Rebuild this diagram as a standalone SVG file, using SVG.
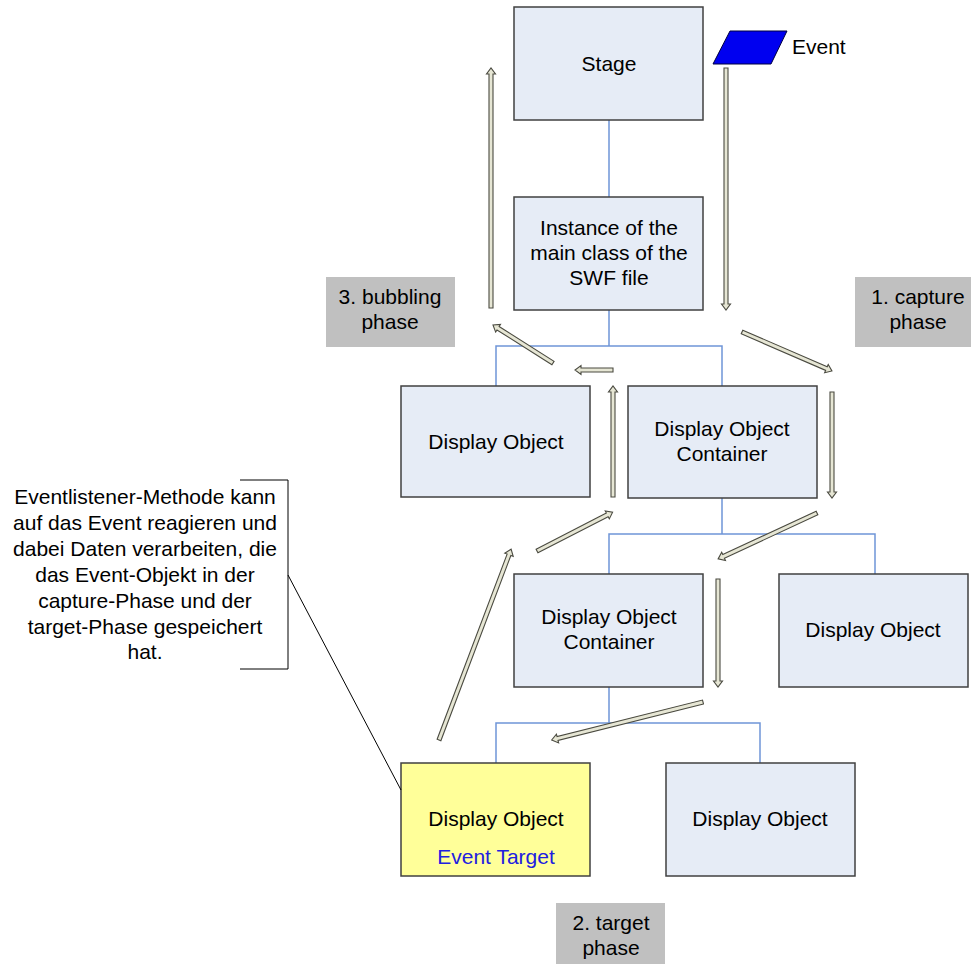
<svg xmlns="http://www.w3.org/2000/svg" width="971" height="964" viewBox="0 0 971 964">
<style>
text{font-family:"Liberation Sans",Arial,sans-serif;font-size:21px;fill:#000;text-anchor:middle}
.box{fill:#e6ecf6;stroke:#404040;stroke-width:1.5}
.tgt{fill:#ffff99;stroke:#404040;stroke-width:1.5}
.gray{fill:#c0c0c0}
.con{fill:none;stroke:#6f95d8;stroke-width:1.5}
.arr{fill:#e6e6d4;stroke:#4a4a40;stroke-width:1.1;stroke-linejoin:miter}
.ann{fill:none;stroke:#000;stroke-width:1}
</style>
<rect width="971" height="964" fill="#fff"/>
<g id="connectors">
<path class="con" d="M609,120V197M609,310V346M496,386V346H722V386M722,498V534M609,574V534H875V574M609,687V723M496,763V723H760V763"/>
</g>
<g id="stage"><rect class="box" x="514" y="7" width="189" height="113"/><text x="609" y="71">Stage</text></g>
<g id="instance"><rect class="box" x="514" y="197" width="189" height="113"/><text x="609" y="235">Instance of the</text><text x="609" y="260">main class of the</text><text x="609" y="285">SWF file</text></g>
<g id="do1"><rect class="box" x="401" y="386" width="189" height="111"/><text x="496" y="449">Display Object</text></g>
<g id="doc1"><rect class="box" x="628" y="386" width="189" height="112"/><text x="722" y="436">Display Object</text><text x="722" y="461">Container</text></g>
<g id="doc2"><rect class="box" x="514" y="574" width="189" height="113"/><text x="609" y="624">Display Object</text><text x="609" y="649">Container</text></g>
<g id="do2"><rect class="box" x="779" y="574" width="189" height="113"/><text x="873" y="637">Display Object</text></g>
<g id="target"><rect class="tgt" x="401" y="763" width="189" height="113"/><text x="496" y="826">Display Object</text><text x="496" y="864" style="fill:#2020e0">Event Target</text></g>
<g id="do3"><rect class="box" x="666" y="763" width="189" height="113"/><text x="760" y="826">Display Object</text></g>
<g id="event"><polygon points="730,31 787,31 771,64 713,64" fill="#0000f0" stroke="#000040" stroke-width="1"/><text x="792" y="54" style="text-anchor:start">Event</text></g>
<g id="capture"><rect class="gray" x="855" y="277" width="116" height="70"/><text x="918" y="304">1. capture</text><text x="918" y="329">phase</text></g>
<g id="bubbling"><rect class="gray" x="326" y="277" width="129" height="70"/><text x="390" y="304">3. bubbling</text><text x="390" y="329">phase</text></g>
<g id="targetphase"><rect class="gray" x="556" y="903" width="109" height="61"/><text x="611" y="930">2. target</text><text x="611" y="955">phase</text></g>
<g id="annotation">
<path class="ann" d="M240,480H288V669H240M288,575L401,790"/>
<text x="145" y="504">Eventlistener-Methode kann</text>
<text x="145" y="530">auf das Event reagieren und</text>
<text x="145" y="556">dabei Daten verarbeiten, die</text>
<text x="145" y="582">das Event-Objekt in der</text>
<text x="145" y="608">capture-Phase und der</text>
<text x="145" y="634">target-Phase gespeichert</text>
<text x="145" y="659">hat.</text>
</g>
<g id="arrows">
<path class="arr" transform="translate(491,308) rotate(-90)" d="M0,-2H234V-4.5L240,0L234,4.5V2H0Z"/>
<path class="arr" transform="translate(726,68) rotate(90)" d="M0,-2H236V-4.5L242,0L236,4.5V2H0Z"/>
<path class="arr" transform="translate(742,332) rotate(23.4)" d="M0,-2H92V-4.5L98,0L92,4.5V2H0Z"/>
<path class="arr" transform="translate(553,363) rotate(-147.7)" d="M0,-2H65V-4.5L71,0L65,4.5V2H0Z"/>
<path class="arr" transform="translate(613,370) rotate(180)" d="M0,-2H32V-4.5L38,0L32,4.5V2H0Z"/>
<path class="arr" transform="translate(613,497) rotate(-90)" d="M0,-2H105V-4.5L111,0L105,4.5V2H0Z"/>
<path class="arr" transform="translate(832,392) rotate(90)" d="M0,-2H100V-4.5L106,0L100,4.5V2H0Z"/>
<path class="arr" transform="translate(817,513) rotate(155.1)" d="M0,-2H103V-4.5L109,0L103,4.5V2H0Z"/>
<path class="arr" transform="translate(537,551) rotate(-27.2)" d="M0,-2H79V-4.5L85,0L79,4.5V2H0Z"/>
<path class="arr" transform="translate(718,579) rotate(90)" d="M0,-2H102V-4.5L108,0L102,4.5V2H0Z"/>
<path class="arr" transform="translate(703,702) rotate(165.9)" d="M0,-2H150V-4.5L156,0L150,4.5V2H0Z"/>
<path class="arr" transform="translate(439,740) rotate(-69.3)" d="M0,-2H198V-4.5L204,0L198,4.5V2H0Z"/>
</g>
</svg>
